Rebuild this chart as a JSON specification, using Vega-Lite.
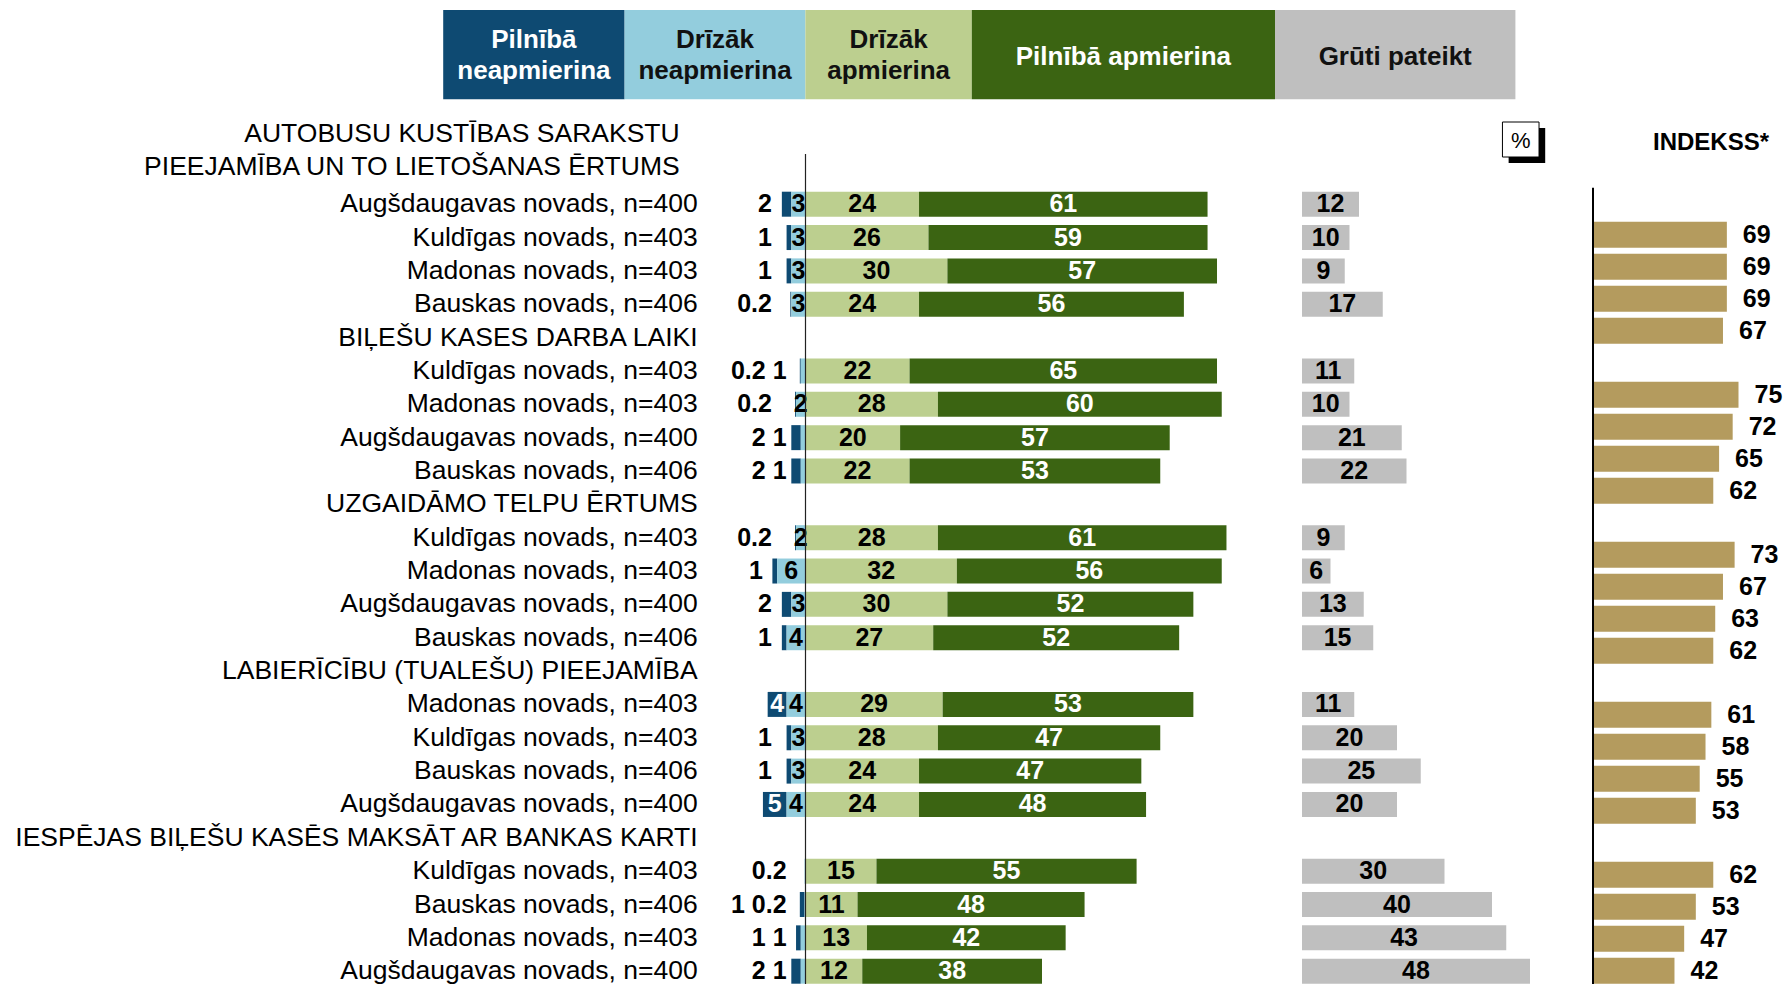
{
  "$schema": "https://vega.github.io/schema/vega-lite/v6.json",
  "width": 1787,
  "height": 984,
  "padding": 0,
  "autosize": {"type": "none"},
  "background": "white",
  "config": {"view": {"stroke": null}, "font": "Liberation Sans", "text": {"font": "Liberation Sans"}},
  "datasets": {
    "rows": [
      {"g": "A", "region": "Augšdaugavas novads, n=400", "pn": 2, "dn": 3, "da": 24, "pa": 61, "gp": 12, "idx": 69},
      {"g": "A", "region": "Kuldīgas novads, n=403", "pn": 1, "dn": 3, "da": 26, "pa": 59, "gp": 10, "idx": 69},
      {"g": "A", "region": "Madonas novads, n=403", "pn": 1, "dn": 3, "da": 30, "pa": 57, "gp": 9, "idx": 69},
      {"g": "A", "region": "Bauskas novads, n=406", "pn": 0.2, "dn": 3, "da": 24, "pa": 56, "gp": 17, "idx": 67},
      {"g": "B", "region": "Kuldīgas novads, n=403", "pn": 0.2, "dn": 1, "da": 22, "pa": 65, "gp": 11, "idx": 75},
      {"g": "B", "region": "Madonas novads, n=403", "pn": 0.2, "dn": 2, "da": 28, "pa": 60, "gp": 10, "idx": 72},
      {"g": "B", "region": "Augšdaugavas novads, n=400", "pn": 2, "dn": 1, "da": 20, "pa": 57, "gp": 21, "idx": 65},
      {"g": "B", "region": "Bauskas novads, n=406", "pn": 2, "dn": 1, "da": 22, "pa": 53, "gp": 22, "idx": 62},
      {"g": "C", "region": "Kuldīgas novads, n=403", "pn": 0.2, "dn": 2, "da": 28, "pa": 61, "gp": 9, "idx": 73},
      {"g": "C", "region": "Madonas novads, n=403", "pn": 1, "dn": 6, "da": 32, "pa": 56, "gp": 6, "idx": 67},
      {"g": "C", "region": "Augšdaugavas novads, n=400", "pn": 2, "dn": 3, "da": 30, "pa": 52, "gp": 13, "idx": 63},
      {"g": "C", "region": "Bauskas novads, n=406", "pn": 1, "dn": 4, "da": 27, "pa": 52, "gp": 15, "idx": 62},
      {"g": "D", "region": "Madonas novads, n=403", "pn": 4, "dn": 4, "da": 29, "pa": 53, "gp": 11, "idx": 61},
      {"g": "D", "region": "Kuldīgas novads, n=403", "pn": 1, "dn": 3, "da": 28, "pa": 47, "gp": 20, "idx": 58},
      {"g": "D", "region": "Bauskas novads, n=406", "pn": 1, "dn": 3, "da": 24, "pa": 47, "gp": 25, "idx": 55},
      {"g": "D", "region": "Augšdaugavas novads, n=400", "pn": 5, "dn": 4, "da": 24, "pa": 48, "gp": 20, "idx": 53},
      {"g": "E", "region": "Kuldīgas novads, n=403", "pn": 0, "dn": 0.2, "da": 15, "pa": 55, "gp": 30, "idx": 62},
      {"g": "E", "region": "Bauskas novads, n=406", "pn": 1, "dn": 0.2, "da": 11, "pa": 48, "gp": 40, "idx": 53},
      {"g": "E", "region": "Madonas novads, n=403", "pn": 1, "dn": 1, "da": 13, "pa": 42, "gp": 43, "idx": 47},
      {"g": "E", "region": "Augšdaugavas novads, n=400", "pn": 2, "dn": 1, "da": 12, "pa": 38, "gp": 48, "idx": 42}
    ],
    "headers": [
      {"g": "A1", "text": "AUTOBUSU KUSTĪBAS SARAKSTU"},
      {"g": "A2", "text": "PIEEJAMĪBA UN TO LIETOŠANAS ĒRTUMS"},
      {"g": "B", "text": "BIĻEŠU KASES DARBA LAIKI"},
      {"g": "C", "text": "UZGAIDĀMO TELPU ĒRTUMS"},
      {"g": "D", "text": "LABIERĪCĪBU (TUALEŠU) PIEEJAMĪBA"},
      {"g": "E", "text": "IESPĒJAS BIĻEŠU KASĒS MAKSĀT AR BANKAS KARTI"}
    ],
    "legend": [
      {"k": 0, "cat": "Pilnībā\nneapmierina"},
      {"k": 1, "cat": "Drīzāk\nneapmierina"},
      {"k": 2, "cat": "Drīzāk\napmierina"},
      {"k": 3, "cat": "Pilnībā apmierina"},
      {"k": 4, "cat": "Grūti pateikt"}
    ]
  },
  "resolve": {"scale": {"x": "independent", "y": "independent", "color": "independent"}},
  "layer": [
    {
      "data": {"name": "rows"},
      "transform": [
        {"calculate": "datum.g + '|' + datum.region", "as": "key"},
        {"calculate": "-(datum.pn + datum.dn)", "as": "negEnd"},
        {"calculate": "-datum.dn", "as": "dnEnd"},
        {"calculate": "datum.da + datum.pa", "as": "paEnd"},
        {"calculate": "datum.da / 2", "as": "daMid"},
        {"calculate": "datum.da + datum.pa / 2", "as": "paMid"},
        {"calculate": "-datum.dn / 2", "as": "dnMid"},
        {"calculate": "-(datum.dn + datum.pn / 2)", "as": "pnMid"},
        {"calculate": "min(-7.1, -(datum.pn + datum.dn) - 2)", "as": "pnLab"},
        {"calculate": "(datum.pn > 0 && datum.pn < 4) ? (datum.pn + ' ' + datum.dn) : ('' + datum.dn)", "as": "outTxt"}
      ],
      "encoding": {
        "y": {
          "field": "key", "type": "nominal", "axis": null,
          "scale": {
            "type": "point", "padding": 0, "range": [137.5, 971.2],
            "domain": ["HA1", "HA2",
              "A|Augšdaugavas novads, n=400", "A|Kuldīgas novads, n=403", "A|Madonas novads, n=403", "A|Bauskas novads, n=406", "HB",
              "B|Kuldīgas novads, n=403", "B|Madonas novads, n=403", "B|Augšdaugavas novads, n=400", "B|Bauskas novads, n=406", "HC",
              "C|Kuldīgas novads, n=403", "C|Madonas novads, n=403", "C|Augšdaugavas novads, n=400", "C|Bauskas novads, n=406", "HD",
              "D|Madonas novads, n=403", "D|Kuldīgas novads, n=403", "D|Bauskas novads, n=406", "D|Augšdaugavas novads, n=400", "HE",
              "E|Kuldīgas novads, n=403", "E|Bauskas novads, n=406", "E|Madonas novads, n=403", "E|Augšdaugavas novads, n=400"]
          }
        }
      },
      "layer": [
        {
          "mark": {"type": "bar", "color": "#0E4A72", "size": 25},
          "encoding": {
            "x": {"field": "negEnd", "type": "quantitative", "axis": null, "scale": {"type": "linear", "domain": [0, 100], "range": [805.5, 1278.5], "zero": false, "nice": false}},
            "x2": {"field": "dnEnd"}
          }
        },
        {
          "mark": {"type": "bar", "color": "#93CDDD", "size": 25},
          "encoding": {
            "x": {"field": "dnEnd", "type": "quantitative", "axis": null, "scale": {"type": "linear", "domain": [0, 100], "range": [805.5, 1278.5], "zero": false, "nice": false}},
            "x2": {"datum": 0}
          }
        },
        {
          "mark": {"type": "bar", "color": "#BCCF8F", "size": 25},
          "encoding": {
            "x": {"field": "da", "type": "quantitative", "axis": null, "scale": {"type": "linear", "domain": [0, 100], "range": [805.5, 1278.5], "zero": false, "nice": false}},
            "x2": {"datum": 0}
          }
        },
        {
          "mark": {"type": "bar", "color": "#3B6412", "size": 25},
          "encoding": {
            "x": {"field": "da", "type": "quantitative", "axis": null, "scale": {"type": "linear", "domain": [0, 100], "range": [805.5, 1278.5], "zero": false, "nice": false}},
            "x2": {"field": "paEnd"}
          }
        },
        {
          "transform": [{"filter": "datum.pn >= 4"}],
          "mark": {"type": "text", "fontWeight": "bold", "fontSize": 25, "color": "white", "baseline": "middle", "align": "center"},
          "encoding": {
            "x": {"field": "pnMid", "type": "quantitative"},
            "text": {"field": "pn", "type": "nominal"}
          }
        },
        {
          "transform": [{"filter": "datum.pn > 0 && datum.pn < 4 && datum.dn >= 2"}],
          "mark": {"type": "text", "fontWeight": "bold", "fontSize": 25, "color": "black", "baseline": "middle", "align": "right"},
          "encoding": {
            "x": {"field": "pnLab", "type": "quantitative"},
            "text": {"field": "pn", "type": "nominal"}
          }
        },
        {
          "transform": [{"filter": "datum.dn > 0 && datum.dn < 2"}],
          "mark": {"type": "text", "fontWeight": "bold", "fontSize": 25, "color": "black", "baseline": "middle", "align": "right"},
          "encoding": {
            "x": {"datum": -4, "type": "quantitative"},
            "text": {"field": "outTxt", "type": "nominal"}
          }
        },
        {
          "transform": [{"filter": "datum.dn >= 2"}],
          "mark": {"type": "text", "fontWeight": "bold", "fontSize": 25, "color": "black", "baseline": "middle", "align": "center"},
          "encoding": {
            "x": {"field": "dnMid", "type": "quantitative"},
            "text": {"field": "dn", "type": "nominal"}
          }
        },
        {
          "mark": {"type": "text", "fontWeight": "bold", "fontSize": 25, "color": "black", "baseline": "middle", "align": "center"},
          "encoding": {
            "x": {"field": "daMid", "type": "quantitative"},
            "text": {"field": "da", "type": "nominal"}
          }
        },
        {
          "mark": {"type": "text", "fontWeight": "bold", "fontSize": 25, "color": "white", "baseline": "middle", "align": "center"},
          "encoding": {
            "x": {"field": "paMid", "type": "quantitative"},
            "text": {"field": "pa", "type": "nominal"}
          }
        },
        {
          "mark": {"type": "text", "fontSize": 26.5, "color": "black", "baseline": "middle", "align": "right"},
          "encoding": {
            "x": {"datum": -22.8, "type": "quantitative"},
            "text": {"field": "region", "type": "nominal"}
          }
        },
        {
          "data": {"values": [{}]},
          "mark": {"type": "rule", "color": "#222222", "strokeWidth": 1.2, "yOffset": 16.5, "y2Offset": 14},
          "encoding": {
            "x": {"datum": 0, "type": "quantitative"},
            "y": {"datum": "HA1", "type": "nominal"},
            "y2": {"datum": "E|Augšdaugavas novads, n=400"}
          }
        },
        {
          "data": {"name": "headers"},
          "transform": [{"filter": "datum.g == 'A1' || datum.g == 'A2'"}, {"calculate": "'H' + datum.g", "as": "key"}],
          "mark": {"type": "text", "fontSize": 26.5, "color": "black", "baseline": "middle", "align": "right", "dx": -18, "dy": -4},
          "encoding": {
            "x": {"datum": -22.8, "type": "quantitative"},
            "text": {"field": "text", "type": "nominal"}
          }
        },
        {
          "data": {"name": "headers"},
          "transform": [{"filter": "datum.g != 'A1' && datum.g != 'A2'"}, {"calculate": "'H' + datum.g", "as": "key"}],
          "mark": {"type": "text", "fontSize": 26.5, "color": "black", "baseline": "middle", "align": "right"},
          "encoding": {
            "x": {"datum": -22.8, "type": "quantitative"},
            "text": {"field": "text", "type": "nominal"}
          }
        }
      ]
    },
    {
      "data": {"name": "rows"},
      "transform": [
        {"calculate": "datum.g + '|' + datum.region", "as": "key"},
        {"calculate": "datum.gp / 2", "as": "gpMid"}
      ],
      "encoding": {
        "y": {
          "field": "key", "type": "nominal", "axis": null,
          "scale": {
            "type": "point", "padding": 0, "range": [137.5, 971.2],
            "domain": ["HA1", "HA2",
              "A|Augšdaugavas novads, n=400", "A|Kuldīgas novads, n=403", "A|Madonas novads, n=403", "A|Bauskas novads, n=406", "HB",
              "B|Kuldīgas novads, n=403", "B|Madonas novads, n=403", "B|Augšdaugavas novads, n=400", "B|Bauskas novads, n=406", "HC",
              "C|Kuldīgas novads, n=403", "C|Madonas novads, n=403", "C|Augšdaugavas novads, n=400", "C|Bauskas novads, n=406", "HD",
              "D|Madonas novads, n=403", "D|Kuldīgas novads, n=403", "D|Bauskas novads, n=406", "D|Augšdaugavas novads, n=400", "HE",
              "E|Kuldīgas novads, n=403", "E|Bauskas novads, n=406", "E|Madonas novads, n=403", "E|Augšdaugavas novads, n=400"]
          }
        }
      },
      "layer": [
        {
          "mark": {"type": "bar", "color": "#BFBFBF", "size": 25},
          "encoding": {
            "x": {"field": "gp", "type": "quantitative", "axis": null, "scale": {"type": "linear", "domain": [0, 100], "range": [1302, 1777], "zero": false, "nice": false}},
            "x2": {"datum": 0}
          }
        },
        {
          "mark": {"type": "text", "fontWeight": "bold", "fontSize": 25, "color": "black", "baseline": "middle", "align": "center"},
          "encoding": {
            "x": {"field": "gpMid", "type": "quantitative"},
            "text": {"field": "gp", "type": "nominal"}
          }
        },
        {
          "data": {"values": [{}]},
          "mark": {"type": "bar", "color": "black", "size": 35, "yOffset": 8},
          "encoding": {
            "x": {"datum": 43.5, "type": "quantitative"},
            "x2": {"datum": 51.2},
            "y": {"datum": "HA1", "type": "nominal"}
          }
        },
        {
          "data": {"values": [{}]},
          "mark": {"type": "bar", "fill": "white", "stroke": "black", "strokeWidth": 1, "size": 35, "yOffset": 2},
          "encoding": {
            "x": {"datum": 42.2, "type": "quantitative"},
            "x2": {"datum": 49.9},
            "y": {"datum": "HA1", "type": "nominal"}
          }
        },
        {
          "data": {"values": [{"t": "%"}]},
          "mark": {"type": "text", "fontSize": 22, "color": "black", "baseline": "middle", "align": "center", "dy": 3},
          "encoding": {
            "x": {"datum": 46.05, "type": "quantitative"},
            "y": {"datum": "HA1", "type": "nominal"},
            "text": {"field": "t", "type": "nominal"}
          }
        },
        {
          "data": {"values": [{"t": "INDEKSS*"}]},
          "mark": {"type": "text", "fontSize": 24, "fontWeight": "bold", "color": "black", "baseline": "middle", "align": "center", "dy": 5.5},
          "encoding": {
            "x": {"datum": 86.1, "type": "quantitative"},
            "y": {"datum": "HA1", "type": "nominal"},
            "text": {"field": "t", "type": "nominal"}
          }
        }
      ]
    },
    {
      "data": {"name": "rows"},
      "transform": [
        {"calculate": "datum.g + '|' + datum.region", "as": "key"}
      ],
      "encoding": {
        "y": {
          "field": "key", "type": "nominal", "axis": null,
          "scale": {
            "type": "point", "padding": 0, "range": [234.8, 970.8],
            "domain": [
              "A|Augšdaugavas novads, n=400", "A|Kuldīgas novads, n=403", "A|Madonas novads, n=403", "A|Bauskas novads, n=406", "gapA",
              "B|Kuldīgas novads, n=403", "B|Madonas novads, n=403", "B|Augšdaugavas novads, n=400", "B|Bauskas novads, n=406", "gapB",
              "C|Kuldīgas novads, n=403", "C|Madonas novads, n=403", "C|Augšdaugavas novads, n=400", "C|Bauskas novads, n=406", "gapC",
              "D|Madonas novads, n=403", "D|Kuldīgas novads, n=403", "D|Bauskas novads, n=406", "D|Augšdaugavas novads, n=400", "gapD",
              "E|Kuldīgas novads, n=403", "E|Bauskas novads, n=406", "E|Madonas novads, n=403", "E|Augšdaugavas novads, n=400"]
          }
        }
      },
      "layer": [
        {
          "mark": {"type": "bar", "color": "#B49B5E", "size": 26},
          "encoding": {
            "x": {"field": "idx", "type": "quantitative", "axis": null, "scale": {"type": "linear", "domain": [0, 100], "range": [1593, 1787], "zero": false, "nice": false}},
            "x2": {"datum": 0}
          }
        },
        {
          "mark": {"type": "text", "fontWeight": "bold", "fontSize": 25, "color": "black", "baseline": "middle", "align": "left", "dx": 16},
          "encoding": {
            "x": {"field": "idx", "type": "quantitative"},
            "text": {"field": "idx", "type": "nominal"}
          }
        },
        {
          "data": {"values": [{}]},
          "mark": {"type": "rule", "color": "black", "strokeWidth": 2, "yOffset": -47, "y2Offset": 14},
          "encoding": {
            "x": {"datum": 0, "type": "quantitative"},
            "y": {"datum": "A|Augšdaugavas novads, n=400", "type": "nominal"},
            "y2": {"datum": "E|Augšdaugavas novads, n=400"}
          }
        }
      ]
    },
    {
      "data": {"name": "legend"},
      "transform": [
        {"calculate": "datum.k + 1", "as": "k2"},
        {"calculate": "datum.k + 0.5", "as": "kMid"}
      ],
      "encoding": {
        "y": {"datum": "legenda", "type": "nominal", "axis": null, "scale": {"type": "band", "domain": ["legenda"], "range": [10, 99.3], "paddingInner": 0, "paddingOuter": 0}}
      },
      "layer": [
        {
          "mark": {"type": "bar"},
          "encoding": {
            "x": {"field": "k", "type": "quantitative", "axis": null, "scale": {"type": "linear", "domain": [0, 1, 2, 3, 4, 5], "range": [443.2, 624.6, 805.4, 971.8, 1275, 1515.4], "zero": false, "nice": false}},
            "x2": {"field": "k2"},
            "color": {"field": "cat", "type": "nominal", "legend": null, "scale": {"domain": ["Pilnībā\nneapmierina", "Drīzāk\nneapmierina", "Drīzāk\napmierina", "Pilnībā apmierina", "Grūti pateikt"], "range": ["#0E4A72", "#93CDDD", "#BCCF8F", "#3B6412", "#BFBFBF"]}}
          }
        },
        {
          "transform": [{"filter": "datum.k == 0"}],
          "mark": {"type": "text", "fontWeight": "bold", "fontSize": 26, "color": "white", "baseline": "middle", "align": "center", "lineBreak": "\n", "lineHeight": 31.5, "dy": -15},
          "encoding": {
            "x": {"field": "kMid", "type": "quantitative"},
            "text": {"field": "cat", "type": "nominal"}
          }
        },
        {
          "transform": [{"filter": "datum.k == 3"}],
          "mark": {"type": "text", "fontWeight": "bold", "fontSize": 26, "color": "white", "baseline": "middle", "align": "center", "dy": 2},
          "encoding": {
            "x": {"field": "kMid", "type": "quantitative"},
            "text": {"field": "cat", "type": "nominal"}
          }
        },
        {
          "transform": [{"filter": "datum.k == 1 || datum.k == 2"}],
          "mark": {"type": "text", "fontWeight": "bold", "fontSize": 26, "color": "#111111", "baseline": "middle", "align": "center", "lineBreak": "\n", "lineHeight": 31.5, "dy": -15},
          "encoding": {
            "x": {"field": "kMid", "type": "quantitative"},
            "text": {"field": "cat", "type": "nominal"}
          }
        },
        {
          "transform": [{"filter": "datum.k == 4"}],
          "mark": {"type": "text", "fontWeight": "bold", "fontSize": 26, "color": "#111111", "baseline": "middle", "align": "center", "dy": 2},
          "encoding": {
            "x": {"field": "kMid", "type": "quantitative"},
            "text": {"field": "cat", "type": "nominal"}
          }
        }
      ]
    }
  ]
}
